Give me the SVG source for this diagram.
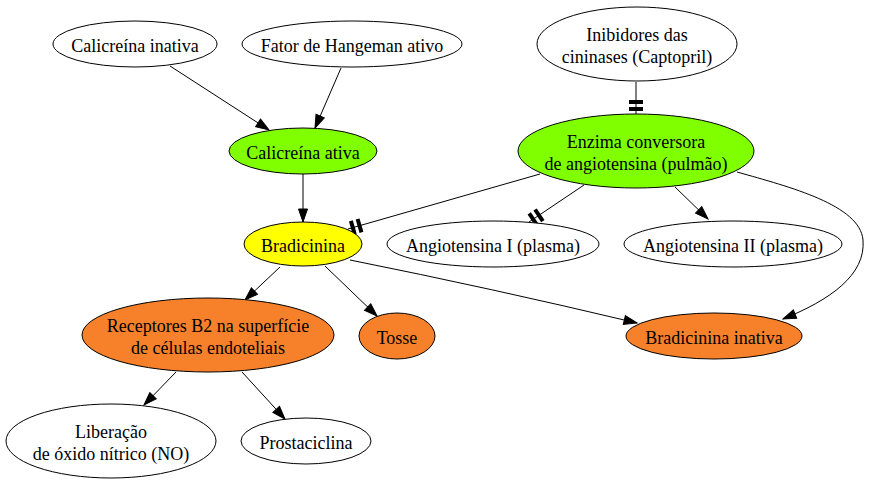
<svg xmlns="http://www.w3.org/2000/svg" width="872" height="485" viewBox="0 0 872 485">
<style>
.n ellipse{stroke:#000;stroke-width:1}
.w{fill:#fff}.g{fill:#7fff00}.y{fill:#ffff00}.o{fill:#f7802a}
text{font-family:"Liberation Serif","Times New Roman",serif;font-size:18px;fill:#000;text-anchor:middle}
.e path{fill:none;stroke:#000;stroke-width:1}
.a{marker-end:url(#arr)}
.t{marker-end:url(#tee)}
</style>
<defs>
<marker id="arr" markerUnits="userSpaceOnUse" markerWidth="14" markerHeight="10" refX="13" refY="5" orient="auto" overflow="visible">
<path d="M0,0.5 L13,5 L0,9.5 Z" fill="#000" stroke="#000" stroke-width="1"/>
</marker>
<marker id="tee" markerUnits="userSpaceOnUse" markerWidth="15" markerHeight="16" refX="14" refY="8" orient="auto" overflow="visible">
<rect x="0" y="1" width="4" height="14" fill="#000"/>
<rect x="7" y="1" width="4" height="14" fill="#000"/>
</marker>
</defs>
<rect width="872" height="485" fill="#fff"/>
<g class="e" id="edges">
<path class="a" d="M170,66 L269,130"/>
<path class="a" d="M341,68 L315,128"/>
<path class="a" d="M303,174 L303,222"/>
<path class="t" d="M636,82 L636,114"/>
<path class="t" d="M540,174 L348,229"/>
<path class="t" d="M584,185 L529,222"/>
<path class="a" d="M675,187 L708,219"/>
<path class="a" d="M737,172 C790,187 860,205 863,240 C866,275 830,300 783,319"/>
<path class="a" d="M350,260 Q490,288 637,323"/>
<path class="a" d="M280,267 L245,300"/>
<path class="a" d="M325,266 L377,316"/>
<path class="a" d="M176,372 L144,405"/>
<path class="a" d="M242,372 L285,419"/>
</g>
<g class="n" id="calicreina_inativa"><ellipse class="w" cx="135" cy="44" rx="82" ry="23"/><text x="135" y="52">Calicreína inativa</text></g>
<g class="n" id="fator_hangeman"><ellipse class="w" cx="352" cy="44" rx="110" ry="23"/><text x="352" y="52">Fator de Hangeman ativo</text></g>
<g class="n" id="calicreina_ativa"><ellipse class="g" cx="303" cy="151" rx="74" ry="23"/><text x="303" y="159">Calicreína ativa</text></g>
<g class="n" id="inibidores"><ellipse class="w" cx="637" cy="44" rx="100" ry="37"/><text x="637" y="41">Inibidores das</text><text x="637" y="63">cininases (Captopril)</text></g>
<g class="n" id="enzima"><ellipse class="g" cx="636" cy="151" rx="118" ry="37"/><text x="636" y="148">Enzima conversora</text><text x="636" y="170">de angiotensina (pulmão)</text></g>
<g class="n" id="bradicinina"><ellipse class="y" cx="303" cy="244" rx="59" ry="22"/><text x="303" y="252">Bradicinina</text></g>
<g class="n" id="angiotensina1"><ellipse class="w" cx="493" cy="244" rx="106" ry="23"/><text x="493" y="252">Angiotensina I (plasma)</text></g>
<g class="n" id="angiotensina2"><ellipse class="w" cx="733" cy="244" rx="109" ry="23"/><text x="733" y="252">Angiotensina II (plasma)</text></g>
<g class="n" id="receptores"><ellipse class="o" cx="208" cy="335" rx="126" ry="37"/><text x="208" y="332">Receptores B2 na superfície</text><text x="208" y="354">de células endoteliais</text></g>
<g class="n" id="tosse"><ellipse class="o" cx="397" cy="336" rx="38" ry="23"/><text x="397" y="344">Tosse</text></g>
<g class="n" id="bradicinina_inativa"><ellipse class="o" cx="714" cy="336" rx="88" ry="23"/><text x="714" y="344">Bradicinina inativa</text></g>
<g class="n" id="liberacao"><ellipse class="w" cx="111" cy="441" rx="105" ry="37"/><text x="111" y="438">Liberação</text><text x="111" y="460">de óxido nítrico (NO)</text></g>
<g class="n" id="prostaciclina"><ellipse class="w" cx="306" cy="441" rx="65" ry="23"/><text x="306" y="449">Prostaciclina</text></g>
</svg>
